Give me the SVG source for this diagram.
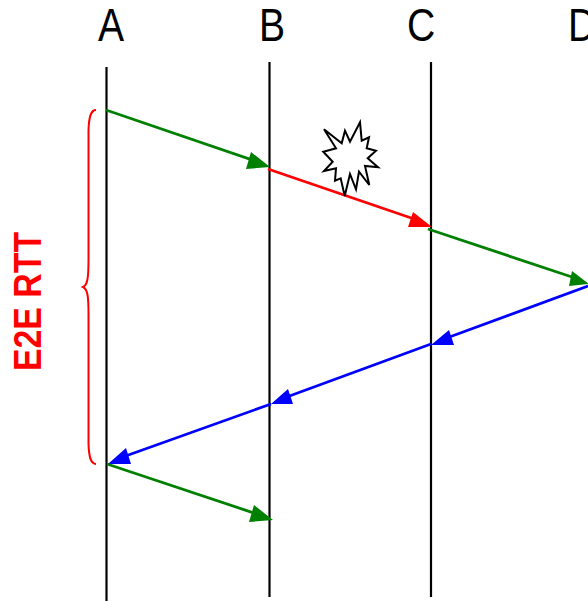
<svg xmlns="http://www.w3.org/2000/svg" width="588" height="601" viewBox="0 0 588 601">
<style>
.life{stroke:#000;stroke-width:2.2;fill:none}
.msg{stroke-width:2.8;fill:none}
.g{stroke:#008000}.r{stroke:#f00}.b{stroke:#00f}
.hg{fill:#008000}.hr{fill:#f00}.hb{fill:#00f}
.lab{font-family:"Liberation Sans",Arial,sans-serif;font-size:46px;fill:#000}
</style>
<rect width="588" height="601" fill="#fff"/>
<g id="node-A"><line class="life" x1="106.500" y1="67" x2="106.500" y2="601"/><text class="lab" transform="translate(98,41) scale(.85,1)">A</text></g>
<g id="node-B"><line class="life" x1="269.500" y1="62" x2="269.500" y2="597"/><text class="lab" transform="translate(259,41) scale(.85,1)">B</text></g>
<g id="node-C"><line class="life" x1="431" y1="62" x2="431" y2="597"/><text class="lab" transform="translate(407,41) scale(.85,1)">C</text></g>
<g id="node-D"><text class="lab" transform="translate(568,41) scale(.85,1)">D</text></g>
<g id="connectors">
<line class="msg g" x1="106" y1="110" x2="258" y2="162"/><polygon class="hg" points="270,167 251,152 246,169"/>
<line class="msg r" x1="268" y1="169" x2="420" y2="221"/><polygon class="hr" points="432,227 413,212 408,227"/>
<line class="msg g" x1="428" y1="229" x2="578" y2="279"/><polygon class="hg" points="589,284 572,271 569,286"/>
<line class="msg b" x1="588" y1="286" x2="444" y2="339"/><polygon class="hb" points="431,345 449,330 454,345"/>
<line class="msg b" x1="431" y1="344" x2="284" y2="398"/><polygon class="hb" points="271,404 288,389 293,404"/>
<line class="msg b" x1="271" y1="404" x2="120" y2="458"/><polygon class="hb" points="108,464 126,448 131,464"/>
<line class="msg g" x1="107" y1="464" x2="260" y2="515"/><polygon class="hg" points="273,520 254,505 249,522"/>
</g>
<g id="burst"><polygon points="324,129.300 341.700,143.300 345,130.700 350,141.700 360,122.300 361.700,140.700 369,137.300 366.700,148.300 376,150.700 367.700,158.300 378,167.300 365,166 369.300,185 359,171.700 356,189.300 350,174 344.700,196 340.700,178.300 335,180.700 336,168.300 324,171 332.700,161.700 323.300,151.700 336,148.300" fill="#fff" stroke="#000" stroke-width="2"/></g>
<g id="e2e-rtt">
<path d="M96 110C91 110 89 116 88.500 130V260C88.500 278 87.500 285 83 287C87.500 289 88.500 296 88.500 314V444C89 458 91 464 96 464" fill="none" stroke="#f00" stroke-width="2"/>
<text transform="translate(41,371) rotate(-90) scale(.89,1)" font-family="Liberation Sans,Arial,sans-serif" font-weight="700" font-size="38" fill="#f00">E2E RTT</text>
</g>
</svg>
